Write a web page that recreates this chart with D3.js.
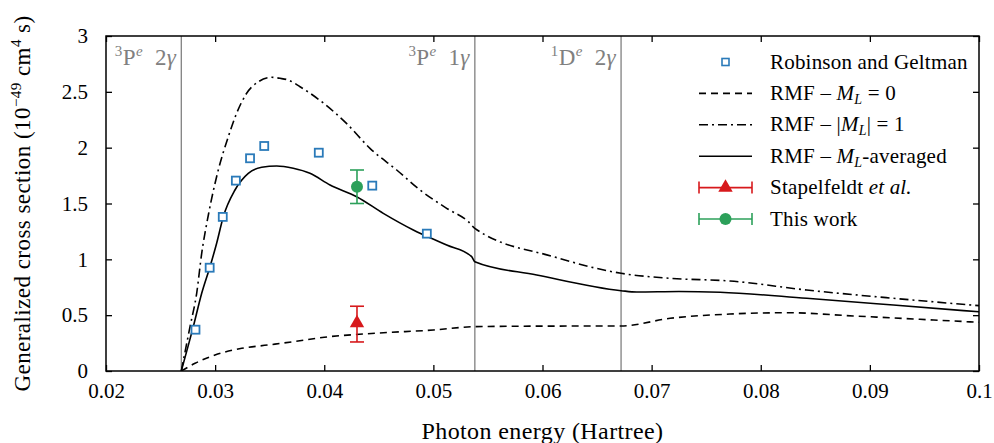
<!DOCTYPE html>
<html>
<head>
<meta charset="utf-8">
<script src="https://cdn.jsdelivr.net/npm/d3@7/dist/d3.min.js"></script>
<style>
  html, body { margin: 0; padding: 0; background: #fff; }
  svg text { font-family: "Liberation Serif", "DejaVu Serif", serif; }
</style>
</head>
<body>
<svg id="chart" width="994" height="443"></svg>
<script>
// Axis ticks
const xTicks = [0.02, 0.03, 0.04, 0.05, 0.06, 0.07, 0.08, 0.09, 0.1];
const yTicks = [0, 0.5, 1, 1.5, 2, 2.5, 3];

// Ionisation thresholds (Hartree)
const thresholds = [0.0269, 0.0538, 0.0672];

// Robinson and Geltman
const rgEnergy = [0.0282, 0.0295, 0.0307, 0.0319, 0.0332, 0.0345, 0.0395, 0.0444, 0.0494];
const rgValue  = [0.37, 0.925, 1.38, 1.705, 1.905, 2.015, 1.955, 1.66, 1.23];

// RMF – M_L = 0
const ml0Energy = [0.0269, 0.02816, 0.02999, 0.03244, 0.03487, 0.03716, 0.04, 0.045, 0.05, 0.0538, 0.06, 0.0672, 0.0717, 0.07718, 0.08238, 0.08848, 0.09459, 0.1];
const ml0Value  = [0, 0.069, 0.143, 0.203, 0.233, 0.262, 0.302, 0.34, 0.367, 0.397, 0.402, 0.403, 0.472, 0.51, 0.522, 0.493, 0.463, 0.436];

// RMF – |M_L| = 1
const ml1Energy = [0.0269, 0.0277, 0.02831, 0.02877, 0.02938, 0.03029, 0.03121, 0.03197, 0.03289, 0.03396, 0.03518, 0.03594, 0.0367, 0.03778, 0.03991, 0.04206, 0.04419, 0.04664, 0.04877, 0.05122, 0.0532, 0.0538, 0.061, 0.0672, 0.0717, 0.07718, 0.08421, 0.09215, 0.1];
const ml1Value  = [0, 0.397, 0.696, 1.054, 1.397, 1.80, 2.098, 2.308, 2.487, 2.59, 2.63, 2.621, 2.606, 2.546, 2.40, 2.215, 1.994, 1.80, 1.621, 1.457, 1.337, 1.278, 1.024, 0.875, 0.83, 0.806, 0.725, 0.651, 0.585];

// RMF – M_L-averaged
const avgEnergy = [0.0269, 0.028, 0.02877, 0.02953, 0.03014, 0.03075, 0.03182, 0.03304, 0.03427, 0.03564, 0.03716, 0.03869, 0.04053, 0.04297, 0.04541, 0.04816, 0.05122, 0.05351, 0.0538, 0.05947, 0.0672, 0.06863, 0.0725, 0.07627, 0.08421, 0.09215, 0.1];
const avgValue  = [0, 0.397, 0.696, 0.934, 1.144, 1.382, 1.621, 1.77, 1.824, 1.836, 1.815, 1.77, 1.666, 1.561, 1.412, 1.263, 1.128, 1.024, 0.979, 0.86, 0.719, 0.707, 0.712, 0.705, 0.651, 0.591, 0.53];

// Measurements with error bars
const stapEnergy = [0.043];
const stapValue  = [0.43];
const stapLow    = [0.26];
const stapHigh   = [0.58];

const thisEnergy = [0.043];
const thisValue  = [1.65];
const thisLow    = [1.5];
const thisHigh   = [1.8];

const svg = d3.select("#chart");
const margin = { left: 106, right: 15, top: 36, bottom: 72 };
const W = 994, H = 443;
const x = d3.scaleLinear().domain([0.02, 0.1]).range([margin.left, W - margin.right]);
const y = d3.scaleLinear().domain([0, 3]).range([H - margin.bottom, margin.top]);

const blue = "#2a7ab9", red = "#d7191c", green = "#2ca05a", grey = "#808080";
const dashM0 = "7,5", dashM1 = "9,4,2,4";

// threshold lines
svg.append("g").selectAll("line").data(thresholds).join("line")
  .attr("x1", d => x(d)).attr("x2", d => x(d))
  .attr("y1", y(0)).attr("y2", y(3))
  .attr("stroke", grey).attr("stroke-width", 1.3);

// threshold labels: [sup, letter, sup, photons]
const thrLabels = [["3", "P", "e", "2"], ["3", "P", "e", "1"], ["1", "D", "e", "2"]];
thrLabels.forEach((lab, i) => {
  const t = svg.append("text")
    .attr("x", x(thresholds[i]) - 5).attr("y", 65)
    .attr("text-anchor", "end").attr("fill", grey).attr("font-size", 23)
    .attr("letter-spacing", 0.4);
  t.append("tspan").attr("font-size", 15).attr("dy", -9).text(lab[0]);
  t.append("tspan").attr("dy", 9).text(lab[1]);
  t.append("tspan").attr("font-size", 15).attr("font-style", "italic").attr("dy", -9).text(lab[2]);
  t.append("tspan").attr("dy", 9).text("\u2002" + lab[3]);
  t.append("tspan").attr("font-style", "italic").text("\u03b3");
});

// axes with inward ticks on all sides
const tickLen = 6;
const fmtX = d => d === 0.1 ? "0.1" : d3.format(".2f")(d);
const fmtY = d => String(d);
const axB = d3.axisBottom(x).tickValues(xTicks).tickSizeInner(-tickLen).tickSizeOuter(0).tickPadding(12).tickFormat(fmtX);
const axT = d3.axisTop(x).tickValues(xTicks).tickSizeInner(-tickLen).tickSizeOuter(0).tickFormat("");
const axL = d3.axisLeft(y).tickValues(yTicks).tickSizeInner(-tickLen).tickSizeOuter(0).tickPadding(18).tickFormat(fmtY);
const axR = d3.axisRight(y).tickValues(yTicks).tickSizeInner(-tickLen).tickSizeOuter(0).tickFormat("");

function styleAxis(g) {
  g.select(".domain").remove();
  g.selectAll(".tick line").attr("stroke", "#000").attr("stroke-width", 1.3);
  g.selectAll(".tick text").attr("fill", "#000").attr("font-size", 21)
    .attr("font-family", "Liberation Serif, DejaVu Serif, serif");
}
svg.append("g").attr("transform", `translate(0,${y(0)})`).call(axB).call(styleAxis);
svg.append("g").attr("transform", `translate(0,${y(3)})`).call(axT).call(styleAxis);
svg.append("g").attr("transform", `translate(${x(0.02)},0)`).call(axL).call(styleAxis);
svg.append("g").attr("transform", `translate(${x(0.1)},0)`).call(axR).call(styleAxis);

// frame
svg.append("rect")
  .attr("x", x(0.02)).attr("y", y(3))
  .attr("width", x(0.1) - x(0.02)).attr("height", y(0) - y(3))
  .attr("fill", "none").attr("stroke", "#000").attr("stroke-width", 1.5);

// theory curves
const line = d3.line().x(d => x(d[0])).y(d => y(d[1])).curve(d3.curveMonotoneX);
const zip = (a, b) => a.map((v, i) => [v, b[i]]);
const curves = [
  { data: zip(ml0Energy, ml0Value), dash: dashM0 },
  { data: zip(ml1Energy, ml1Value), dash: dashM1 },
  { data: zip(avgEnergy, avgValue), dash: null }
];
svg.append("clipPath").attr("id", "plotclip").append("rect")
  .attr("x", x(0.02)).attr("y", y(3)).attr("width", x(0.1) - x(0.02)).attr("height", y(0) - y(3));
svg.append("g").attr("clip-path", "url(#plotclip)").selectAll("path").data(curves).join("path")
  .attr("d", d => line(d.data))
  .attr("fill", "none").attr("stroke", "#000").attr("stroke-width", 1.6)
  .attr("stroke-dasharray", d => d.dash);

// Robinson and Geltman squares
const sq = 8;
svg.append("g").selectAll("rect").data(zip(rgEnergy, rgValue)).join("rect")
  .attr("x", d => x(d[0]) - sq / 2).attr("y", d => y(d[1]) - sq / 2)
  .attr("width", sq).attr("height", sq)
  .attr("fill", "#fff").attr("stroke", blue).attr("stroke-width", 1.8);

// error bar helper
function errBar(g, cx, yl, yh, color) {
  g.append("line").attr("x1", cx).attr("x2", cx).attr("y1", yl).attr("y2", yh)
    .attr("stroke", color).attr("stroke-width", 1.6);
  [yl, yh].forEach(yy => g.append("line").attr("x1", cx - 7).attr("x2", cx + 7)
    .attr("y1", yy).attr("y2", yy).attr("stroke", color).attr("stroke-width", 1.6));
}
const tri = d3.symbol().type(d3.symbolTriangle).size(90);
stapEnergy.forEach((e, i) => {
  const g = svg.append("g");
  errBar(g, x(e), y(stapLow[i]), y(stapHigh[i]), red);
  g.append("path").attr("d", tri).attr("transform", `translate(${x(e)},${y(stapValue[i])})`).attr("fill", red);
});
thisEnergy.forEach((e, i) => {
  const g = svg.append("g");
  errBar(g, x(e), y(thisLow[i]), y(thisHigh[i]), green);
  g.append("circle").attr("cx", x(e)).attr("cy", y(thisValue[i])).attr("r", 6).attr("fill", green);
});

// legend
const lg = svg.append("g");
const lx0 = 699, lx1 = 752, ltx = 770, ly0 = 62, ldy = 31.4;
const legendFont = 21;
function legendText(i, parts) {
  const t = lg.append("text").attr("x", ltx).attr("y", ly0 + i * ldy + 6.5)
    .attr("font-size", legendFont).attr("fill", "#000").attr("letter-spacing", 0.2);
  parts.forEach(p => {
    const s = t.append("tspan").text(p.t);
    if (p.it) s.attr("font-style", "italic");
    if (p.sub) s.attr("font-size", 14).attr("dy", 4);
    if (p.back) s.attr("dy", -4);
  });
}
// 0: squares
lg.append("rect").attr("x", (lx0 + lx1) / 2 - 3.5).attr("y", ly0 - 3.5).attr("width", 7).attr("height", 7)
  .attr("fill", "#fff").attr("stroke", blue).attr("stroke-width", 1.6);
legendText(0, [{ t: "Robinson and Geltman" }]);
// 1-3: lines
[[dashM0, 1], [dashM1, 2], [null, 3]].forEach(([dash, i]) => {
  lg.append("line").attr("x1", lx0).attr("x2", lx1).attr("y1", ly0 + i * ldy).attr("y2", ly0 + i * ldy)
    .attr("stroke", "#000").attr("stroke-width", 1.6).attr("stroke-dasharray", dash);
});
legendText(1, [{ t: "RMF \u2013 " }, { t: "M", it: true }, { t: "L", it: true, sub: true }, { t: " = 0", back: true }]);
legendText(2, [{ t: "RMF \u2013 |" }, { t: "M", it: true }, { t: "L", it: true, sub: true }, { t: "| = 1", back: true }]);
legendText(3, [{ t: "RMF \u2013 " }, { t: "M", it: true }, { t: "L", it: true, sub: true }, { t: "-averaged", back: true }]);
// 4-5: error bar symbols
function legendErr(i, color, marker) {
  const yy = ly0 + i * ldy;
  lg.append("line").attr("x1", lx0).attr("x2", lx1).attr("y1", yy).attr("y2", yy).attr("stroke", color).attr("stroke-width", 1.6);
  [lx0, lx1].forEach(xx => lg.append("line").attr("x1", xx).attr("x2", xx).attr("y1", yy - 6).attr("y2", yy + 6)
    .attr("stroke", color).attr("stroke-width", 1.6));
  if (marker === "tri") lg.append("path").attr("d", tri).attr("transform", `translate(${(lx0 + lx1) / 2},${yy})`).attr("fill", color);
  else lg.append("circle").attr("cx", (lx0 + lx1) / 2).attr("cy", yy).attr("r", 6).attr("fill", color);
}
legendErr(4, red, "tri");
legendText(4, [{ t: "Stapelfeldt " }, { t: "et al.", it: true }]);
legendErr(5, green, "circ");
legendText(5, [{ t: "This work" }]);

// axis titles
svg.append("text").attr("x", (x(0.02) + x(0.1)) / 2).attr("y", 439)
  .attr("text-anchor", "middle").attr("font-size", 24).attr("letter-spacing", 0.4)
  .text("Photon energy (Hartree)");
const yl = svg.append("text").attr("transform", `translate(30,${(y(0) + y(3)) / 2}) rotate(-90)`)
  .attr("text-anchor", "middle").attr("font-size", 23).attr("letter-spacing", 0.45);
yl.append("tspan").text("Generalized cross section (10");
yl.append("tspan").attr("font-size", 15).attr("dy", -9).text("\u221249");
yl.append("tspan").attr("dy", 9).text(" cm");
yl.append("tspan").attr("font-size", 15).attr("dy", -9).text("4");
yl.append("tspan").attr("dy", 9).text(" s)");
</script>
</body>
</html>
